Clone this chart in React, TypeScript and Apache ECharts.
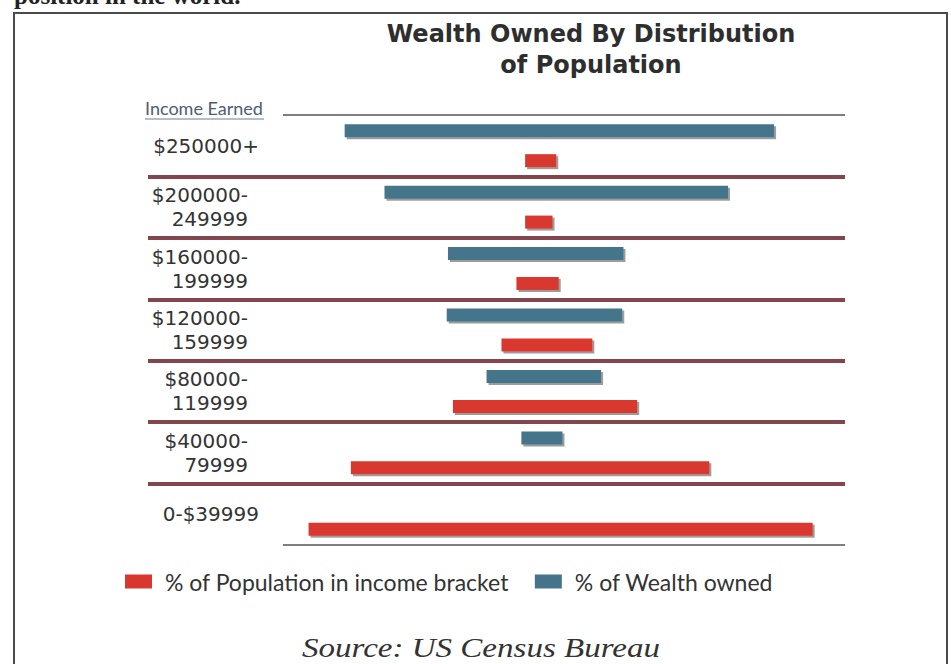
import React, { useEffect, useRef } from "react";
import * as echarts from "echarts";

// Income brackets, top to bottom
const categories = [
  "$250000+",
  "$200000-\n249999",
  "$160000-\n199999",
  "$120000-\n159999",
  "$80000-\n119999",
  "$40000-\n79999",
  "0-$39999",
];

// Invisible spacer series (as in the original stacked-bar construction)
const wealthSpacer = [15.8, 19.0, 24.1, 24.0, 27.2, 30.0, null];
const wealthOwned = [34.5, 27.6, 14.1, 14.1, 9.2, 3.3, null];

const populationSpacer = [30.3, 30.3, 29.6, 28.4, 24.5, 16.3, 12.9];
const populationShare = [2.5, 2.2, 3.4, 7.3, 14.8, 28.8, 40.5];

const seriesNames = ["% of Wealth owned", "% of Population in income bracket"];

const RED = "#d8372f";
const BLUE = "#45748a";

export default function App() {
  const ref = useRef<HTMLDivElement>(null);

  useEffect(() => {
    if (!ref.current) return;
    const chart = echarts.init(ref.current, null, { renderer: "svg" });
    const barStyle = (color: string) => ({
      color,
      shadowColor: "rgba(40,40,40,0.45)",
      shadowOffsetX: 2,
      shadowOffsetY: 2,
      shadowBlur: 0,
    });
    const labelFont = {
      fontFamily: "DejaVu Sans",
      fontSize: 20,
      lineHeight: 24,
      color: "#333333",
    };
    chart.setOption({
      animation: false,
      backgroundColor: "#ffffff",
      title: {
        text: "Wealth Owned By Distribution\nof Population",
        left: 586,
        top: 13,
        textAlign: "center",
        textStyle: {
          fontFamily: "DejaVu Sans",
          fontSize: 24,
          fontWeight: "bold",
          lineHeight: 31,
          color: "#2e2e2e",
        },
      },
      legend: {
        data: [seriesNames[1], seriesNames[0]],
        left: 120,
        top: 565,
        icon: "rect",
        itemWidth: 27,
        itemHeight: 14,
        itemGap: 26,
        itemStyle: { shadowBlur: 0, shadowOffsetX: 0, shadowOffsetY: 0 },
        textStyle: {
          fontFamily: "Lato",
          fontSize: 23,
          color: "#333333",
          padding: [0, 0, 0, 8],
        },
      },
      grid: { left: 148, right: 106, top: 115, bottom: 119, containLabel: false },
      xAxis: { type: "value", min: 0, max: 56, show: false },
      yAxis: {
        type: "category",
        data: categories,
        inverse: true,
        axisLine: { show: false },
        axisTick: { show: false },
        axisLabel: {
          inside: true,
          align: "right",
          margin: 111,
          ...labelFont,
          formatter: (v: string) =>
            v.includes("\n")
              ? v
                  .split("\n")
                  .map((l) => `{m|${l}}`)
                  .join("\n")
              : `{s|${v}}`,
          rich: {
            m: { ...labelFont, padding: [0, 11, 0, 0] },
            s: { ...labelFont },
          },
        },
        splitLine: {
          show: true,
          showMinLine: false,
          showMaxLine: false,
          lineStyle: { color: "#84464e", width: 4 },
        },
      },
      series: [
        {
          name: "wealthSpacer",
          type: "bar",
          stack: "wealth",
          data: wealthSpacer,
          itemStyle: { color: "transparent" },
          barWidth: 13,
          barGap: "130%",
          silent: true,
        },
        {
          name: seriesNames[0],
          type: "bar",
          stack: "wealth",
          data: wealthOwned,
          itemStyle: barStyle(BLUE),
          barWidth: 13,
          barGap: "130%",
        },
        {
          name: "populationSpacer",
          type: "bar",
          stack: "population",
          data: populationSpacer,
          itemStyle: { color: "transparent" },
          barWidth: 13,
          barGap: "130%",
          silent: true,
        },
        {
          name: seriesNames[1],
          type: "bar",
          stack: "population",
          data: populationShare,
          itemStyle: barStyle(RED),
          barWidth: 13,
          barGap: "130%",
        },
      ],
      graphic: [
        {
          type: "rect",
          shape: { x: 14, y: 13, width: 933, height: 700 },
          style: { fill: "none", stroke: "#4a4a4a", lineWidth: 2 },
          silent: true,
        },
        {
          type: "text",
          left: 14,
          top: -17,
          style: {
            text: "position in the world.",
            font: "bold 25px 'Liberation Serif'",
            fill: "#222222",
          },
        },
        {
          type: "line",
          shape: { x1: 283, y1: 115, x2: 845, y2: 115 },
          style: { stroke: "#555555", lineWidth: 1.5 },
        },
        {
          type: "line",
          shape: { x1: 283, y1: 545, x2: 845, y2: 545 },
          style: { stroke: "#555555", lineWidth: 1.5 },
        },
        {
          type: "text",
          left: 145,
          top: 99,
          style: {
            text: "Income Earned",
            font: "18px 'Lato'",
            fill: "#4d5d70",
          },
        },
        {
          type: "line",
          shape: { x1: 145, y1: 119, x2: 264, y2: 119 },
          style: { stroke: "#6d7d90", lineWidth: 1 },
        },
        {
          type: "text",
          x: 481,
          y: 648,
          scaleX: 1.18,
          style: {
            text: "Source: US Census Bureau",
            font: "italic 28px 'Liberation Serif'",
            fill: "#333333",
            align: "center",
            verticalAlign: "middle",
          },
        },
      ],
    });
    return () => chart.dispose();
  }, []);

  return (
    <div
      ref={ref}
      style={{ position: "fixed", left: 0, top: 0, width: 951, height: 664 }}
    />
  );
}
